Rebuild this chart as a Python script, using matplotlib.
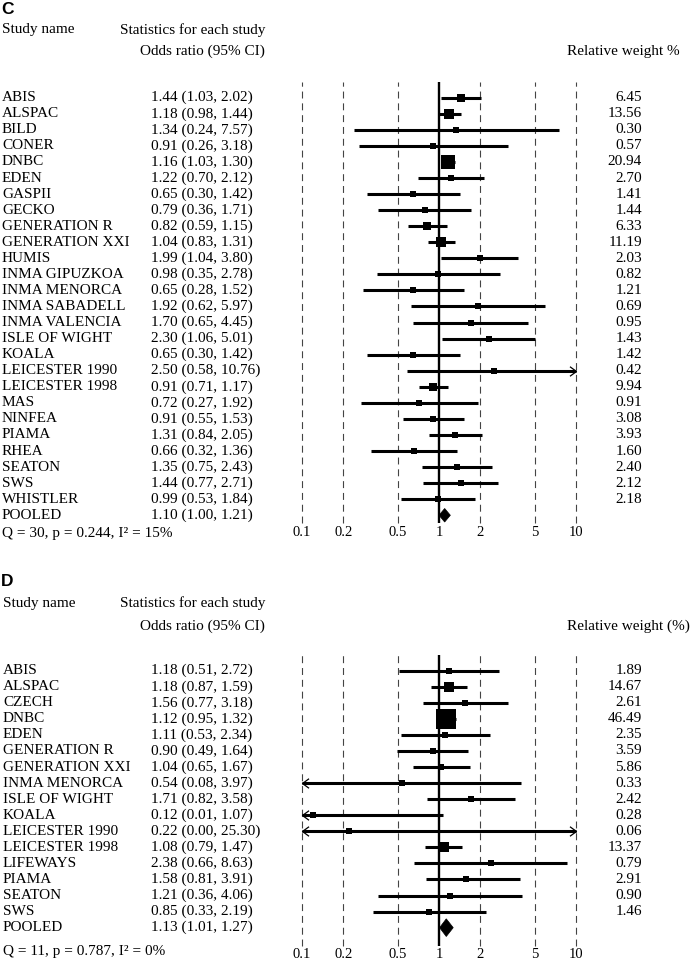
import numpy as np
import matplotlib
matplotlib.use("Agg")
import matplotlib.pyplot as plt
from matplotlib.path import Path
from matplotlib.patches import Polygon
from matplotlib.transforms import blended_transform_factory

plt.rcParams['font.family'] = ['Liberation Serif', 'DejaVu Serif']
plt.rcParams['lines.scale_dashes'] = False

# ---------------- data ----------------
c_names = ["ABIS", "ALSPAC", "BILD", "CONER", "DNBC", "EDEN", "GASPII", "GECKO",
           "GENERATION R", "GENERATION XXI", "HUMIS", "INMA GIPUZKOA", "INMA MENORCA",
           "INMA SABADELL", "INMA VALENCIA", "ISLE OF WIGHT", "KOALA", "LEICESTER 1990",
           "LEICESTER 1998", "MAS", "NINFEA", "PIAMA", "RHEA", "SEATON", "SWS", "WHISTLER"]
c_or = [1.44, 1.18, 1.34, 0.91, 1.16, 1.22, 0.65, 0.79, 0.82, 1.04, 1.99, 0.98, 0.65,
        1.92, 1.70, 2.30, 0.65, 2.50, 0.91, 0.72, 0.91, 1.31, 0.66, 1.35, 1.44, 0.99]
c_lo = [1.03, 0.98, 0.24, 0.26, 1.03, 0.70, 0.30, 0.36, 0.59, 0.83, 1.04, 0.35, 0.28,
        0.62, 0.65, 1.06, 0.30, 0.58, 0.71, 0.27, 0.55, 0.84, 0.32, 0.75, 0.77, 0.53]
c_hi = [2.02, 1.44, 7.57, 3.18, 1.30, 2.12, 1.42, 1.71, 1.15, 1.31, 3.80, 2.78, 1.52,
        5.97, 4.45, 5.01, 1.42, 10.76, 1.17, 1.92, 1.53, 2.05, 1.36, 2.43, 2.71, 1.84]
c_w = [6.45, 13.56, 0.30, 0.57, 20.94, 2.70, 1.41, 1.44, 6.33, 11.19, 2.03, 0.82, 1.21,
       0.69, 0.95, 1.43, 1.42, 0.42, 9.94, 0.91, 3.08, 3.93, 1.60, 2.40, 2.12, 2.18]
c_pooled = (1.10, 1.00, 1.21)
c_het = "Q = 30, p = 0.244, I² = 15%"

d_names = ["ABIS", "ALSPAC", "CZECH", "DNBC", "EDEN", "GENERATION R", "GENERATION XXI",
           "INMA MENORCA", "ISLE OF WIGHT", "KOALA", "LEICESTER 1990", "LEICESTER 1998",
           "LIFEWAYS", "PIAMA", "SEATON", "SWS"]
d_or = [1.18, 1.18, 1.56, 1.12, 1.11, 0.90, 1.04, 0.54, 1.71, 0.12, 0.22, 1.08, 2.38,
        1.58, 1.21, 0.85]
d_lo = [0.51, 0.87, 0.77, 0.95, 0.53, 0.49, 0.65, 0.08, 0.82, 0.01, 0.00, 0.79, 0.66,
        0.81, 0.36, 0.33]
d_hi = [2.72, 1.59, 3.18, 1.32, 2.34, 1.64, 1.67, 3.97, 3.58, 1.07, 25.30, 1.47, 8.63,
        3.91, 4.06, 2.19]
d_w = [1.89, 14.67, 2.61, 46.49, 2.35, 3.59, 5.86, 0.33, 2.42, 0.28, 0.06, 13.37, 0.79,
       2.91, 0.90, 1.46]
d_pooled = (1.13, 1.01, 1.27)
d_het = "Q = 11, p = 0.787, I² = 0%"

ticks = [0.1, 0.2, 0.5, 1, 2, 5, 10]
tick_labels = ["0.1", "0.2", "0.5", "1", "2", "5", "10"]

# ---------------- layout ----------------
W, H = 690, 964
DPI = 100
fig = plt.figure(figsize=(W / DPI, H / DPI), dpi=DPI)

def fx(px):
    return px / W

def fy(py):
    return 1 - py / H

XL, XR = 302, 576
FS = 11
PX2PT = 72 / DPI

arrow_r = Path([(-1.3, 0.95), (0, 0), (-1.3, -0.95)], [Path.MOVETO, Path.LINETO, Path.LINETO])
arrow_l = Path([(1.3, 0.95), (0, 0), (1.3, -0.95)], [Path.MOVETO, Path.LINETO, Path.LINETO])


def panel(letter, names, ors, los, his, ws, pooled, het, wlabel,
          top_letter, top_hdr1, top_hdr2, row0, step, bottom_px, dia_h, tick_pad, het_y,
          name_x):
    n = len(names)
    top_px = row0 - step
    ax = fig.add_axes([fx(XL), fy(bottom_px), fx(XR - XL), (bottom_px - top_px) / H])
    ax.set_xscale('log')
    xmin, xmax = 0.1, 10
    ax.set_xlim(xmin, xmax)
    ax.set_ylim((bottom_px - row0) / step, -1)
    for s in ax.spines.values():
        s.set_visible(False)
    ax.set_yticks([])
    ax.set_xticks(ticks)
    ax.set_xticklabels(tick_labels)
    ax.minorticks_off()
    ax.tick_params(axis='x', length=0, pad=tick_pad, labelsize=10.5)
    for t in ticks:
        if t == 1:
            ax.axvline(t, color='black', lw=1.7, zorder=3)
        else:
            ax.axvline(t, color='#444444', lw=0.8, dashes=(5, 3.5), zorder=1, clip_on=False)

    rows = np.arange(n)
    for i in rows:
        lo, hi, o, w = los[i], his[i], ors[i], ws[i]
        a, b = max(lo, xmin), min(hi, xmax)
        ax.plot([a, b], [i, i], color='black', lw=2.2, solid_capstyle='butt', zorder=4,
                clip_on=False)
        if hi > xmax:
            ax.plot([xmax], [i], marker=arrow_r, ms=9.4, mew=0.9, mec='black',
                    mfc='none', color='black', clip_on=False, zorder=5)
        if lo < xmin:
            ax.plot([xmin], [i], marker=arrow_l, ms=9.4, mew=0.9, mec='black',
                    mfc='none', color='black', clip_on=False, zorder=5)
        side_px = max(6.5, 2.85 * np.sqrt(w))
        ax.plot([o], [i], marker='s', ms=side_px * PX2PT, color='black', mec='black',
                mew=0, zorder=6, clip_on=False)

    po, plo, phi = pooled
    pr = n
    ax.add_patch(Polygon([(plo, pr), (po, pr - dia_h), (phi, pr), (po, pr + dia_h)],
                         closed=True, facecolor='black', edgecolor='black', lw=0.5,
                         zorder=6))

    tr = blended_transform_factory(fig.transFigure, ax.transData)
    for i in rows:
        ax.text(fx(name_x), i, names[i], transform=tr, fontsize=FS, va='center', ha='left')
        ax.text(fx(151), i, f"{ors[i]:.2f} ({los[i]:.2f}, {his[i]:.2f})", transform=tr,
                fontsize=FS, va='center', ha='left')
        ax.text(fx(642), i, f"{ws[i]:.2f}", transform=tr, fontsize=FS, va='center',
                ha='right')
    ax.text(fx(name_x), pr, "POOLED", transform=tr, fontsize=FS, va='center', ha='left')
    ax.text(fx(151), pr, f"{po:.2f} ({plo:.2f}, {phi:.2f})", transform=tr, fontsize=FS,
            va='center', ha='left')

    fig.text(fx(name_x), fy(het_y), het, fontsize=FS, va='center', ha='left')
    fig.text(fx(1), fy(top_letter), letter, fontsize=12.5, fontweight='bold',
             family=['Liberation Sans', 'DejaVu Sans'], va='center', ha='left')
    fig.text(fx(name_x), fy(top_hdr1), "Study name", fontsize=FS, va='center', ha='left')
    fig.text(fx(120), fy(top_hdr1), "Statistics for each study", fontsize=FS,
             va='center', ha='left')
    fig.text(fx(140), fy(top_hdr2), "Odds ratio (95% CI)", fontsize=FS, va='center',
             ha='left')
    fig.text(fx(567), fy(top_hdr2), wlabel, fontsize=FS, va='center', ha='left')
    return ax


panel("C", c_names, c_or, c_lo, c_hi, c_w, c_pooled, c_het, "Relative weight %",
      top_letter=9, top_hdr1=30, top_hdr2=51, row0=97.7, step=16.06, bottom_px=523,
      dia_h=0.42, tick_pad=2.0, het_y=533, name_x=2)
panel("D", d_names, d_or, d_lo, d_hi, d_w, d_pooled, d_het, "Relative weight (%)",
      top_letter=582, top_hdr1=603, top_hdr2=626, row0=670.7, step=16.06, bottom_px=946,
      dia_h=0.55, tick_pad=1.5, het_y=951, name_x=3)

fig.savefig("out.png", dpi=DPI)
